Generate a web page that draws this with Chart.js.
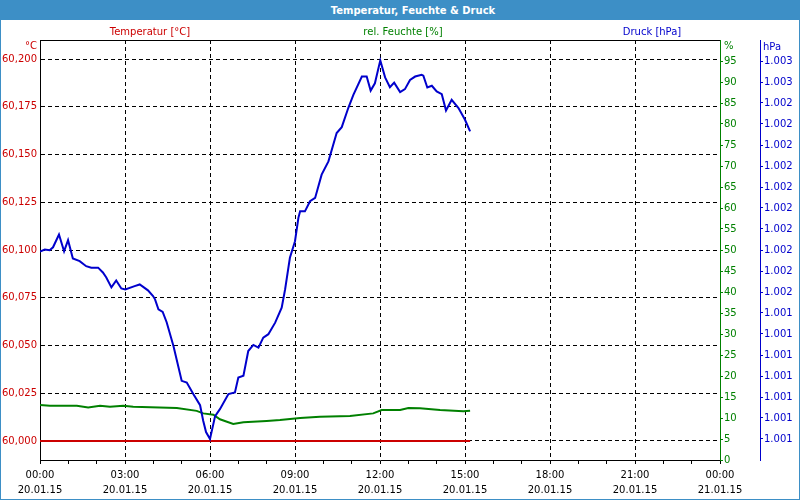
<!DOCTYPE html>
<html>
<head>
<meta charset="utf-8">
<script src="https://cdn.jsdelivr.net/npm/chart.js@4/dist/chart.umd.min.js"></script>
<style>
body { margin: 0; background: #fff; }
#wrap { position: relative; width: 800px; height: 500px; overflow: hidden; }
#chart { position: absolute; left: 0; top: 0; }
#kopf { position: absolute; left: 0; top: 0; width: 800px; height: 20px; background: #3d8fc6; }
#kopf span { position: absolute; left: 413px; top: 10px; transform: translate(-50%, -50%); color: #fff;
  font: bold 10px "DejaVu Sans", sans-serif; white-space: nowrap; }
#rahmen { position: absolute; left: 0; top: 0; width: 798px; height: 499px; border: 1px solid #3d8fc6; border-top: none; pointer-events: none; }
</style>
</head>
<body>
<div id="wrap">
  <canvas id="chart" width="800" height="500"></canvas>
  <div id="kopf"><span>Temperatur, Feuchte &amp; Druck</span></div>
  <div id="rahmen"></div>
</div>
<script>
// Beschriftungen
const titel = 'Temperatur, Feuchte & Druck';
const reihenNamen = ['Temperatur [°C]', 'rel. Feuchte [%]', 'Druck [hPa]'];
const einheiten = ['°C', '%', 'hPa'];
const xZeiten = ['00:00', '03:00', '06:00', '09:00', '12:00', '15:00', '18:00', '21:00', '00:00'];
const xDaten = ['20.01.15', '20.01.15', '20.01.15', '20.01.15', '20.01.15', '20.01.15', '20.01.15', '20.01.15', '21.01.15'];

// Achsen-Ticks
const tempTicks = [60.000, 60.025, 60.050, 60.075, 60.100, 60.125, 60.150, 60.175, 60.200];
const feuchteTicks = [0, 5, 10, 15, 20, 25, 30, 35, 40, 45, 50, 55, 60, 65, 70, 75, 80, 85, 90, 95];
const druckTicks = [1000.85, 1000.95, 1001.05, 1001.15, 1001.25, 1001.35, 1001.45, 1001.55, 1001.65, 1001.75,
  1001.85, 1001.95, 1002.05, 1002.15, 1002.25, 1002.35, 1002.45, 1002.55, 1002.65];

// Temperatur (Stunden seit 00:00)
const tempStunden = [0, 15.18];
const tempWerte = [60.000, 60.000];

// rel. Feuchte
const feuchteStunden = [0, 0.35, 1.30, 1.70, 2.12, 2.47, 2.94, 3.29, 4.83, 5.53, 5.76, 6.12, 6.35, 6.82,
  7.18, 8.00, 8.47, 9.18, 9.88, 10.94, 11.76, 12.06, 12.71, 13.00, 13.41, 14.12, 14.94, 15.18];
const feuchteWerte = [13.1, 12.9, 12.9, 12.5, 12.9, 12.7, 12.9, 12.7, 12.4, 11.7, 11.1, 10.8, 9.7, 8.6,
  9.0, 9.3, 9.5, 10.0, 10.3, 10.5, 11.1, 11.9, 11.9, 12.4, 12.3, 11.9, 11.6, 11.7];

// Druck
const druckStunden = [0, 0.17, 0.34, 0.46, 0.67, 0.85, 0.99, 1.16, 1.40, 1.63, 1.81, 2.05, 2.22, 2.34, 2.52,
  2.69, 2.87, 3.01, 3.34, 3.52, 3.81, 3.99, 4.06, 4.18, 4.33, 4.47, 4.71, 5.00, 5.18, 5.41, 5.65, 5.76,
  5.86, 6.00, 6.18, 6.35, 6.65, 6.88, 7.00, 7.18, 7.35, 7.53, 7.71, 7.88, 8.06, 8.30, 8.53, 8.65, 8.82,
  9.00, 9.12, 9.18, 9.35, 9.53, 9.71, 9.94, 10.18, 10.47, 10.65, 10.88, 11.06, 11.36, 11.53, 11.67, 11.82,
  12.01, 12.18, 12.35, 12.50, 12.71, 12.88, 13.06, 13.24, 13.47, 13.53, 13.67, 13.83, 14.00, 14.18, 14.33,
  14.53, 14.77, 15.00, 15.18];
const druckWerte = [1001.743, 1001.752, 1001.749, 1001.763, 1001.824, 1001.744, 1001.797, 1001.710, 1001.697,
  1001.673, 1001.666, 1001.666, 1001.643, 1001.619, 1001.572, 1001.605, 1001.567, 1001.562, 1001.578,
  1001.586, 1001.558, 1001.531, 1001.515, 1001.467, 1001.455, 1001.406, 1001.293, 1001.127, 1001.119,
  1001.064, 1001.011, 1000.937, 1000.883, 1000.850, 1000.959, 1000.992, 1001.064, 1001.072, 1001.143,
  1001.151, 1001.269, 1001.298, 1001.285, 1001.333, 1001.349, 1001.404, 1001.475, 1001.562, 1001.713,
  1001.792, 1001.903, 1001.934, 1001.934, 1001.982, 1001.998, 1002.109, 1002.172, 1002.307, 1002.335,
  1002.426, 1002.489, 1002.576, 1002.576, 1002.509, 1002.544, 1002.653, 1002.572, 1002.525, 1002.547,
  1002.502, 1002.516, 1002.560, 1002.576, 1002.584, 1002.580, 1002.524, 1002.532, 1002.505, 1002.492,
  1002.414, 1002.465, 1002.426, 1002.370, 1002.315];

const ROT = '#cc0000', GRUEN = '#008000', BLAU = '#0000cc';
const schrift = { family: '"DejaVu Sans", sans-serif', size: 10 };

function punkte(xs, ys) {
  return xs.map((x, i) => ({ x: x, y: ys[i] }));
}

// deutsche Zahlenformate
function fmtTemp(v) {
  return v.toFixed(3).replace('.', ',');
}
function fmtDruck(v) {
  return String(Math.round(v)).replace(/\B(?=(\d{3})+(?!\d))/g, '.');
}

// Kopfzeilen und Einheiten
const beschriftung = {
  id: 'beschriftung',
  afterDraw(chart) {
    const ctx = chart.ctx;
    const a = chart.chartArea;
    ctx.save();
    ctx.strokeStyle = '#000';
    ctx.lineWidth = 1;
    ctx.beginPath();
    ctx.moveTo(a.left, a.top + 0.5);
    ctx.lineTo(a.right, a.top + 0.5);
    ctx.stroke();

    ctx.font = '10px "DejaVu Sans", sans-serif';
    ctx.textBaseline = 'middle';
    ctx.textAlign = 'center';
    const farben = [ROT, GRUEN, BLAU];
    const mitte = [150, 403, 652];
    reihenNamen.forEach((n, i) => {
      ctx.fillStyle = farben[i];
      ctx.fillText(n, mitte[i], 32);
    });
    ctx.textAlign = 'right';
    ctx.fillStyle = ROT;
    ctx.fillText(einheiten[0], a.left - 3, 46);
    ctx.textAlign = 'left';
    ctx.fillStyle = GRUEN;
    ctx.fillText(einheiten[1], chart.scales.yH.left + 4, 46);
    ctx.fillStyle = BLAU;
    ctx.fillText(einheiten[2], chart.scales.yP.left + 3, 47);
    ctx.restore();
  }
};

const ctx = document.getElementById('chart').getContext('2d');
const chart = new Chart(ctx, {
  type: 'line',
  data: {
    datasets: [
      { label: reihenNamen[2], data: punkte(druckStunden, druckWerte), yAxisID: 'yP',
        borderColor: BLAU, borderWidth: 2, pointRadius: 0, tension: 0 },
      { label: reihenNamen[1], data: punkte(feuchteStunden, feuchteWerte), yAxisID: 'yH',
        borderColor: GRUEN, borderWidth: 2, pointRadius: 0, tension: 0 },
      { label: reihenNamen[0], data: punkte(tempStunden, tempWerte), yAxisID: 'yT',
        borderColor: ROT, borderWidth: 2, pointRadius: 0, tension: 0 }
    ]
  },
  options: {
    responsive: false,
    animation: false,
    layout: { padding: { top: 40, left: 0, right: 0, bottom: 0 } },
    plugins: { legend: { display: false }, tooltip: { enabled: false }, title: { display: false } },
    scales: {
      x: {
        type: 'linear', min: 0, max: 24,
        afterFit(s) { s.height = 40; },
        ticks: {
          stepSize: 1, autoSkip: false, maxRotation: 0, color: '#000', padding: 4,
          font: { family: schrift.family, size: 10, lineHeight: 1.5 },
          callback(v) { return v % 3 === 0 ? [xZeiten[v / 3], xDaten[v / 3]] : ''; }
        },
        grid: {
          color(c) {
            const v = c.tick ? c.tick.value : 0;
            return (v % 3 === 0 && v > 0 && v < 24) ? '#000' : 'rgba(0,0,0,0)';
          },
          tickColor: '#000', tickLength: 4, lineWidth: 1
        },
        border: { color: '#000', dash: [4, 3] }
      },
      yT: {
        type: 'linear', position: 'left', min: 59.99, max: 60.21,
        afterFit(s) { s.width = 40; },
        afterBuildTicks(s) { s.ticks = tempTicks.map(v => ({ value: v })); },
        ticks: { color: ROT, font: schrift, padding: 3, callback: v => fmtTemp(v) },
        grid: { color: '#000', drawTicks: false, lineWidth: 1 },
        border: { color: '#000', dash: [4, 3] }
      },
      yH: {
        type: 'linear', position: 'right', min: 0, max: 100, weight: 0,
        afterFit(s) { s.width = 40; },
        afterBuildTicks(s) { s.ticks = feuchteTicks.map(v => ({ value: v })); },
        ticks: { color: GRUEN, font: schrift, padding: 1, callback: v => String(v) },
        grid: { drawOnChartArea: false, color: GRUEN, tickLength: 3 },
        border: { color: GRUEN }
      },
      yP: {
        type: 'linear', position: 'right', min: 1000.75, max: 1002.75, weight: 1,
        afterFit(s) { s.width = 40; },
        afterBuildTicks(s) { s.ticks = druckTicks.map(v => ({ value: v })); },
        ticks: { color: BLAU, font: schrift, padding: 1, callback: v => fmtDruck(v) },
        grid: { drawOnChartArea: false, color: BLAU, tickLength: 3 },
        border: { color: BLAU }
      }
    }
  },
  plugins: [beschriftung]
});
</script>
</body>
</html>
